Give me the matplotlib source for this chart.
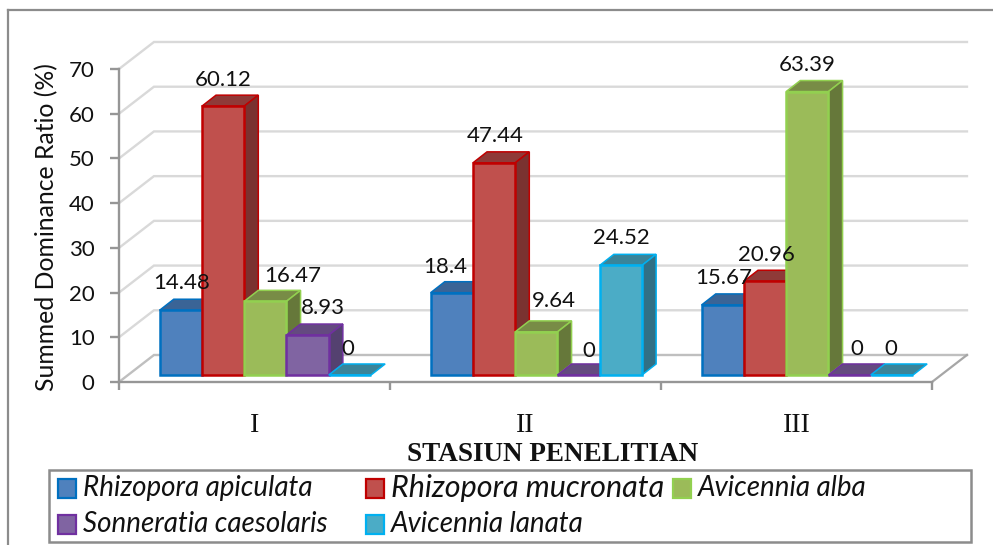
#!/usr/bin/env python3
"""Summed dominance ratio per station, drawn as pseudo-3D Excel style bars."""

import matplotlib
matplotlib.use('Agg')
import matplotlib.pyplot as plt
from matplotlib.lines import Line2D
from matplotlib.patches import Polygon, Rectangle

stations = ['I', 'II', 'III']
species = ['Rhizopora apiculata', 'Rhizopora mucronata', 'Avicennia alba',
           'Sonneratia caesolaris', 'Avicennia lanata']
apiculata = [14.48, 18.4, 15.67]
mucronata = [60.12, 47.44, 20.96]
alba = [16.47, 9.64, 63.39]
caesolaris = [8.93, 0, 0]
lanata = [0, 24.52, 0]
series = [apiculata, mucronata, alba, caesolaris, lanata]
value_labels = [['14.48', '18.4', '15.67'], ['60.12', '47.44', '20.96'],
                ['16.47', '9.64', '63.39'], ['8.93', '0', '0'], ['0', '24.52', '0']]

faces = ['#4F81BD', '#C0504D', '#9BBB59', '#8064A2', '#4BACC6']
edges = ['#0070C0', '#C00000', '#92D050', '#7030A0', '#00B0F0']
tops = ['#3A6496', '#8F3A38', '#788C46', '#644A80', '#3A8499']
sides = ['#2F5078', '#7A3230', '#66783A', '#544170', '#317085']

# label offsets from the bar's top centre, in pixels
label_dx = [[1, -7, 1], [0, 1, 1], [27, 18, 0], [15, 10, 7], [-2, 0, -1]]
label_dy = [[27, 26, 27], [26, 27, 26], [25, 31, 27], [27, 24, 26], [26, 27, 26]]

W, H = 993, 545
SANS = 'Lato'
SERIF = 'Liberation Serif'

BAR_W = 0.156
BAR_START = 0.15
LIFT = 1.57        # floor gap under the bars, value units
DEPTH_X, DEPTH_Y = 0.052, 2.46
WALL_X, WALL_Y = 0.129, 6.04


def px_to_fig(x, y):
    return x / W, 1 - y / H


fig = plt.figure(figsize=(W / 100, H / 100), dpi=100, facecolor='white')
ax = fig.add_axes([119 / W, 1 - 382 / H, (932 - 119) / W, (382 - 69) / H])
ax.set_xlim(0, 3)
ax.set_ylim(0, 70)
ax.patch.set_visible(False)

# outer frame, it runs off the image on the right and at the bottom
for xs, ys in [((8, 8), (10, 545)), ((8, 993), (10, 10))]:
    fx, fy = zip(*[px_to_fig(x, y) for x, y in zip(xs, ys)])
    fig.add_artist(Line2D(fx, fy, color='#8C8C8C', lw=1.6))

# back wall gridlines
for v in range(0, 71, 10):
    col = '#BFBFBF' if v == 0 else '#D9D9D9'
    ax.plot([0, WALL_X, 3 + WALL_X], [v, v + WALL_Y, v + WALL_Y], color=col,
            lw=1.7, clip_on=False, zorder=1, solid_joinstyle='miter')
ax.plot([3, 3 + WALL_X], [0, WALL_Y], color='#A6A6A6', lw=1.6, clip_on=False, zorder=1)

# bars, later series sit on top of earlier ones
for s, vals in enumerate(series):
    for g, v in enumerate(vals):
        x0 = g + BAR_START + s * BAR_W
        x1 = x0 + BAR_W
        y0 = LIFT
        y1 = LIFT + v
        z = 3 + s + g * 10
        top = [(x0, y1), (x1, y1), (x1 + DEPTH_X, y1 + DEPTH_Y), (x0 + DEPTH_X, y1 + DEPTH_Y)]
        ax.add_patch(Polygon(top, closed=True, facecolor=tops[s], edgecolor=edges[s],
                             lw=1.1, clip_on=False, zorder=z))
        if v > 0:
            side = [(x1, y0), (x1 + DEPTH_X, y0 + DEPTH_Y), (x1 + DEPTH_X, y1 + DEPTH_Y), (x1, y1)]
            ax.add_patch(Polygon(side, closed=True, facecolor=sides[s], edgecolor=edges[s],
                                 lw=1.1, clip_on=False, zorder=z))
        ax.bar(x0, v, width=BAR_W, bottom=y0, align='edge', color=faces[s],
               edgecolor=edges[s], linewidth=1.8, clip_on=False, zorder=z + 0.5)

# value labels last so they stay readable over the bars
for s, vals in enumerate(series):
    for g, v in enumerate(vals):
        xc = g + BAR_START + (s + 0.5) * BAR_W
        ax.annotate(value_labels[s][g], (xc, LIFT + v),
                    xytext=(label_dx[s][g], label_dy[s][g]), textcoords='offset pixels',
                    ha='center', va='center', fontsize=16, family=SANS,
                    color='#111111', zorder=100, annotation_clip=False)

for name in ['top', 'right']:
    ax.spines[name].set_visible(False)
for name in ['left', 'bottom']:
    ax.spines[name].set_color('#969696')
    ax.spines[name].set_linewidth(1.7)
    ax.spines[name].set_zorder(2)

ax.set_yticks(range(0, 71, 10))
ax.tick_params(axis='y', length=6.5, width=1.7, color='#969696', labelsize=16, pad=11)
for lab in ax.get_yticklabels():
    lab.set_family(SANS)
    lab.set_color('#111111')

ax.set_xticks([0, 1, 2, 3])
ax.set_xticklabels([])
ax.tick_params(axis='x', which='major', length=6, width=1.7, color='#969696')
ax.set_xticks([0.5, 1.5, 2.5], minor=True)
ax.set_xticklabels(stations, minor=True, family=SERIF, fontsize=20, color='#111111')
ax.tick_params(axis='x', which='minor', length=0, pad=22)

ax.set_xlabel('STASIUN PENELITIAN', family=SERIF, fontweight='bold', fontsize=19.5,
              x=(553 - 119) / (932 - 119), labelpad=3, color='#111111')
fig.text(47 / W, 1 - 227 / H, 'Summed Dominance Ratio (%)', rotation=90, ha='center',
         va='center', family=SANS, fontsize=17.8, color='#111111')

# legend placed by hand, the columns are unevenly spaced in the original
bx, by = px_to_fig(49, 542)
fig.add_artist(Rectangle((bx, by), 922 / W, 72 / H, transform=fig.transFigure,
                         facecolor='white', edgecolor='#8C8C8C', lw=1.8))
legend_x = [58, 366, 673, 58, 366]
legend_y = [488, 488, 488, 524, 524]
legend_size = [20, 22, 20, 20, 20]
for i, name in enumerate(species):
    hx, hy = px_to_fig(legend_x[i], legend_y[i] + 9.5)
    fig.add_artist(Rectangle((hx, hy), 18 / W, 19 / H, transform=fig.transFigure,
                             facecolor=faces[i], edgecolor=edges[i], lw=1.6))
    tx, ty = px_to_fig(legend_x[i] + 25, legend_y[i])
    fig.text(tx, ty, name, family=SANS, style='italic', fontsize=legend_size[i],
             ha='left', va='center', color='#111111')

fig.savefig('out.png', dpi=100)
